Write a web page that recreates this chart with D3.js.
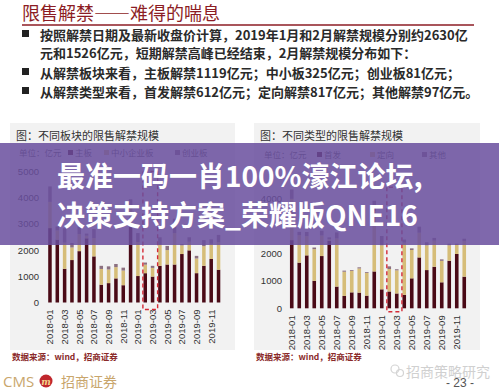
<!DOCTYPE html>
<html lang="zh">
<head>
<meta charset="utf-8">
<title>限售解禁</title>
<script src="https://cdn.jsdelivr.net/npm/d3@7"></script>
<style>
  body { margin: 0; background: #fff; }
  svg { display: block; }
  .cjk { font-family: "Noto Sans CJK SC", sans-serif; }
  .axis text { font-family: "Liberation Sans", Arial, sans-serif; font-size: 9.5px; fill: #333; }
  .axis path, .axis line { display: none; }
</style>
</head>
<body>
<script>
// months shown on both charts
var months = ["2018-01","2018-02","2018-03","2018-04","2018-05","2018-06","2018-07","2018-08","2018-09","2018-10","2018-11","2018-12",
              "2019-01","2019-02","2019-03","2019-04","2019-05","2019-06","2019-07","2019-08","2019-09","2019-10","2019-11","2019-12"];
var tickMonths = months.filter(function(d, i) { return i % 2 == 0; });
var leftTicks = [0, 1000, 2000, 3000, 4000, 5000];
// on the right chart 3000 and 5000 sit under the banner text
var rightTicks = [0, 1000, 2000, 4000];

// left chart: by board (亿元)
var boardNames = ["主板", "中小企业板", "创业板"];
var mainBoard = [2840, 2400, 1285, 1620, 1960, 2450, 1760, 680, 740, 920, 660, 2900, 1010, 1119, 990, 1400, 1450, 1450, 1850, 1990, 1120, 1400, 1660, 1250];
var smeBoard  = [1000, 350, 1000, 480, 650, 100, 700, 600, 520, 430, 560, 700, 1300, 325, 330, 800, 550, 1200, 330, 330, 560, 750, 580, 1050];
var gemBoard  = [590, 150, 550, 170, 290, 80, 340, 120, 120, 120, 110, 340, 340, 81, 80, 290, 160, 550, 50, 170, 100, 230, 170, 280];

// right chart: by type (亿元)
var typeNames = ["首发", "定向", "其他"];
var ipoUnlock   = [2480, 1660, 1925, 1000, 1900, 2450, 790, 450, 580, 570, 460, 1340, 690, 612, 540, 490, 1090, 1850, 1390, 1510, 945, 1730, 1975, 1150];
var placeUnlock = [1500, 1000, 700, 1150, 750, 60, 1750, 880, 780, 880, 830, 2200, 1600, 817, 840, 1900, 1030, 900, 900, 950, 780, 560, 330, 1300];
var otherUnlock = [340, 120, 150, 60, 170, 70, 220, 40, 30, 40, 30, 370, 340, 97, 40, 110, 60, 220, 110, 100, 55, 60, 45, 80];

var colors = ["#4a0a16", "#d6bd78", "#8c7080"];

var w = 499, h = 391;
var svg = d3.select("body").append("svg").attr("width", w).attr("height", h);

// ---- slide header ----
svg.append("text").attr("class", "cjk")
  .attr("x", 22).attr("y", 20)
  .attr("font-size", "18px").attr("fill", "#8c1c24")
  .text("限售解禁——难得的喘息");
svg.append("line")
  .attr("x1", 22).attr("x2", 474).attr("y1", 25).attr("y2", 25)
  .attr("stroke", "#8c1c24").attr("stroke-width", 1.5);

var bullets = [
  { y: 40, text: "按照解禁日期及最新收盘价计算，2019年1月和2月解禁规模分别约2630亿", mark: true },
  { y: 58, text: "元和1526亿元，短期解禁高峰已经结束，2月解禁规模分布如下：", mark: false },
  { y: 78, text: "从解禁板块来看，主板解禁1119亿元；中小板325亿元；创业板81亿元；", mark: true },
  { y: 97, text: "从解禁类型来看，首发解禁612亿元；定向解禁817亿元；其他解禁97亿元。", mark: true }
];
bullets.forEach(function(b) {
  if (b.mark) {
    svg.append("rect").attr("x", 22).attr("y", b.y - 10).attr("width", 7).attr("height", 7).attr("fill", "#222");
  }
  svg.append("text").attr("class", "cjk")
    .attr("x", 40).attr("y", b.y)
    .attr("font-size", "13px").attr("font-weight", "bold").attr("fill", "#2a2a2a")
    .text(b.text);
});

// ---- one stacked bar chart ----
function drawChart(opt) {
  var g = svg.append("g");

  g.append("rect")
    .attr("x", opt.box[0]).attr("y", opt.box[1])
    .attr("width", opt.box[2]).attr("height", opt.box[3])
    .attr("fill", "#f2f2f2");

  g.append("text").attr("class", "cjk")
    .attr("x", opt.box[0] + 6).attr("y", opt.box[1] + 17)
    .attr("font-size", "11px").attr("fill", "#333")
    .text(opt.title);

  // legend
  g.append("text").attr("class", "cjk")
    .attr("x", opt.legendX[0]).attr("y", opt.legendY)
    .attr("font-size", "8.5px").attr("fill", "#555")
    .text("单位：亿元");
  opt.names.forEach(function(n, i) {
    g.append("rect")
      .attr("x", opt.legendX[i + 1]).attr("y", opt.legendY - 6)
      .attr("width", 5).attr("height", 5).attr("fill", colors[i]);
    g.append("text").attr("class", "cjk")
      .attr("x", opt.legendX[i + 1] + 7).attr("y", opt.legendY)
      .attr("font-size", "8.5px").attr("fill", "#555")
      .text(n);
  });

  var xScale = d3.scaleBand()
    .domain(months)
    .range(opt.xRange)
    .paddingInner(0.52)
    .paddingOuter(0.26);

  var yScale = d3.scaleLinear()
    .domain([0, 5000])
    .range(opt.yRange);

  var table = months.map(function(m, i) {
    var row = { month: m };
    opt.names.forEach(function(n, k) { row[n] = opt.series[k][i]; });
    return row;
  });
  var stacked = d3.stack().keys(opt.names)(table);

  g.selectAll("g.layer")
    .data(stacked)
    .enter()
    .append("g")
    .attr("class", "layer")
    .attr("fill", function(d, i) { return colors[i]; })
    .selectAll("rect")
    .data(function(d) { return d; })
    .enter()
    .append("rect")
    .attr("x", function(d) { return xScale(d.data.month); })
    .attr("width", xScale.bandwidth())
    .attr("y", function(d) { return yScale(d[1]); })
    .attr("height", function(d) { return yScale(d[0]) - yScale(d[1]); });

  var yAxis = d3.axisLeft(yScale)
    .tickValues(opt.ticks)
    .tickFormat(d3.format("d"))
    .tickSize(0).tickPadding(0);
  g.append("g").attr("class", "axis")
    .attr("transform", "translate(" + opt.yAxisX + ",0)")
    .call(yAxis);

  var xAxis = d3.axisBottom(xScale).tickValues(tickMonths).tickSize(0).tickPadding(0);
  var xg = g.append("g").attr("class", "axis")
    .attr("transform", "translate(0," + (opt.yRange[0] + 7) + ")")
    .call(xAxis);
  xg.selectAll("text")
    .attr("transform", "rotate(-90)")
    .attr("text-anchor", "end")
    .attr("x", 0).attr("y", 0).attr("dy", "0.35em")
    .attr("font-size", "9.5px");

  // dashed box round 2019-02 / 2019-03
  var step = xScale.step();
  var bx0 = xScale("2019-02") - 0.08 * step;
  var bx1 = xScale("2019-03") + xScale.bandwidth() + 0.45 * step;
  var by0 = yScale(opt.boxTop);
  var by1 = opt.yRange[0] + opt.boxBelow;
  g.append("path")
    .attr("d", "M" + bx0 + "," + by0 + "V" + by1 + "H" + bx1 + "V" + by0 + "H" + bx0)
    .attr("fill", "none")
    .attr("stroke", "#d42a36")
    .attr("stroke-width", 1.4)
    .attr("stroke-dasharray", "4,3");

  g.append("text").attr("class", "cjk")
    .attr("x", opt.box[0] + 2).attr("y", 360)
    .attr("font-size", "8.5px").attr("font-weight", "bold").attr("fill", "#8a2a2a")
    .text("数据来源：wind，招商证券");
}

drawChart({
  box: [10, 123, 225, 227],
  title: "图：不同板块的限售解禁规模",
  names: boardNames,
  series: [mainBoard, smeBoard, gemBoard],
  ticks: leftTicks,
  legendX: [19, 68, 104, 175],
  legendY: 156,
  xRange: [46.3, 222.2],
  yRange: [302.5, 171.5],
  yAxisX: 39,
  boxTop: 5000,
  boxBelow: 7
});

drawChart({
  box: [254, 123, 226, 227],
  title: "图：不同类型的限售解禁规模",
  names: typeNames,
  series: [ipoUnlock, placeUnlock, otherUnlock],
  ticks: rightTicks,
  legendX: [264, 317, 370, 422],
  legendY: 158,
  xRange: [288, 468],
  yRange: [308.3, 170.8],
  yAxisX: 282,
  boxTop: 4400,
  boxBelow: 3.5
});

// ---- footer ----
svg.append("text")
  .attr("x", 3).attr("y", 386.5)
  .attr("font-family", "'Open Sans', sans-serif").attr("font-size", "15px")
  .attr("fill", "#c9a66c")
  .text("CMS");
svg.append("circle").attr("cx", 46).attr("cy", 381).attr("r", 6.5).attr("fill", "#c0272d");
svg.append("text")
  .attr("x", 46).attr("y", 384.5).attr("text-anchor", "middle")
  .attr("font-family", "'DejaVu Serif', serif").attr("font-style", "italic").attr("font-weight", "bold")
  .attr("font-size", "9px").attr("fill", "#f3d58a")
  .text("m");
svg.append("text").attr("class", "cjk")
  .attr("x", 61).attr("y", 386.5)
  .attr("font-size", "14px").attr("fill", "#c9a66c")
  .text("招商证券");

svg.append("circle").attr("cx", 395).attr("cy", 369).attr("r", 4).attr("fill", "none").attr("stroke", "#d4d4d4").attr("stroke-width", 1.2);
svg.append("circle").attr("cx", 400).attr("cy", 373).attr("r", 3.5).attr("fill", "none").attr("stroke", "#d4d4d4").attr("stroke-width", 1.2);
svg.append("text").attr("class", "cjk")
  .attr("x", 406).attr("y", 377)
  .attr("font-size", "14px").attr("fill", "#d0d0d0")
  .text("招商策略研究");
svg.append("text")
  .attr("x", 460).attr("y", 387).attr("text-anchor", "middle")
  .attr("font-family", "'Liberation Sans', Arial, sans-serif").attr("font-size", "12px")
  .attr("fill", "#555")
  .text("- 23 -");

// ---- purple banner over the charts ----
svg.append("rect")
  .attr("x", 0).attr("y", 143)
  .attr("width", w).attr("height", 102)
  .attr("fill", "rgb(104,78,158)").attr("fill-opacity", 0.85);
svg.append("text").attr("class", "cjk")
  .attr("x", 57).attr("y", 187)
  .attr("font-size", "28px").attr("font-weight", "bold").attr("fill", "#fff")
  .text("最准一码一肖100%濠江论坛,");
svg.append("text").attr("class", "cjk")
  .attr("x", 57).attr("y", 226)
  .attr("font-size", "28px").attr("font-weight", "bold").attr("fill", "#fff")
  .text("决策支持方案_荣耀版QNE16");
</script>
</body>
</html>
